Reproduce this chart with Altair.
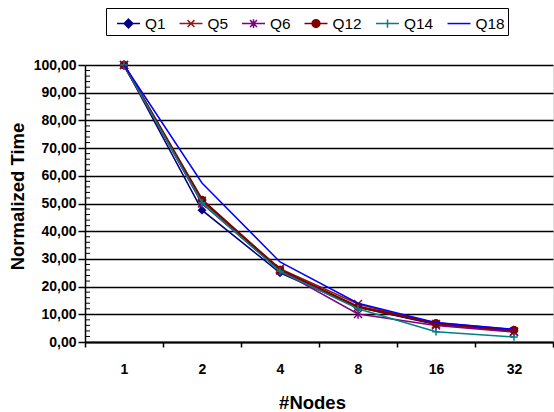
import altair as alt
import pandas as pd

nodes = ["1", "2", "4", "8", "16", "32"]
series_names = ["Q1", "Q5", "Q6", "Q12", "Q14", "Q18"]
q1 = [100.0, 47.6, 25.0, 12.5, 6.3, 4.0]
q5 = [100.0, 51.0, 26.5, 13.7, 6.5, 3.8]
q6 = [100.0, 50.0, 25.8, 10.1, 6.0, 3.6]
q12 = [100.0, 51.3, 26.0, 12.7, 6.8, 4.3]
q14 = [100.0, 50.3, 25.5, 12.0, 3.7, 1.8]
q18 = [100.0, 57.4, 28.9, 14.0, 7.0, 4.6]
y_ticks = [0, 10, 20, 30, 40, 50, 60, 70, 80, 90, 100]
minor_ticks = [v for v in range(0, 101, 2) if v % 10 != 0]

colors = ["#000080", "#8C1C1C", "#800080", "#800000", "#008080", "#0000FF"]
line_widths = [1.5, 1.5, 1.5, 2.5, 1.5, 1.5]

FONT = "Liberation Sans"

rows = []
for name, vals in zip(series_names, [q1, q5, q6, q12, q14, q18]):
    for n, v in zip(nodes, vals):
        rows.append({"nodes": n, "series": name, "value": v})
df = pd.DataFrame(rows)
minor_df = pd.DataFrame({"m": minor_ticks})

x_axis = alt.Axis(
    tickBand="extent", labelAngle=0, labelFont=FONT, labelFontSize=14,
    labelFontWeight="bold", labelColor="black", labelBaseline="alphabetic",
    labelPadding=26, tickSize=5, tickColor="black", tickWidth=1.5,
    domainColor="black", domainWidth=2, grid=False,
    titleFont=FONT, titleFontSize=18.5, titleFontWeight="bold",
    titleColor="black", titleX=227, titleY=66, titleBaseline="alphabetic",
    titleAnchor="start", titleAlign="center",
)
x_enc = alt.X(
    "nodes:O", sort=nodes, title="#Nodes",
    scale=alt.Scale(type="band", paddingInner=0, paddingOuter=0),
    axis=x_axis,
)
y_scale = alt.Scale(domain=[0, 100], nice=False)
y_axis = alt.Axis(
    values=y_ticks,
    labelExpr="replace(format(datum.value, '.2f'), '.', ',')",
    labelFont=FONT, labelFontSize=14, labelFontWeight="bold",
    labelColor="black", labelPadding=2, tickSize=7, tickColor="black",
    tickWidth=1.5, domainColor="black", domainWidth=1.5,
    grid=True, gridColor="black", gridWidth=1.7,
    titleFont=FONT, titleFontSize=18.5, titleFontWeight="bold",
    titleColor="black", titleX=-62, titleY=131, titleAngle=270,
    titleBaseline="alphabetic", titleAlign="center",
)
y_enc = alt.Y("value:Q", scale=y_scale, title="Normalized Time", axis=y_axis)

base = alt.Chart(df)
layers = []

# minor ticks on y axis (inside)
minor = alt.Chart(minor_df).mark_rule(color="black", strokeWidth=1).encode(
    y=alt.Y("m:Q", scale=y_scale, title="Normalized Time", axis=y_axis),
    x=alt.value(0),
    x2=alt.value(5),
)

point_shapes = [
    ("diamond", True, 80),
    ("M-1,-1L1,1M-1,1L1,-1", False, 64),
    ("M-1,-1L1,1M-1,1L1,-1M0,-1.2L0,1.2", False, 64),
    ("circle", True, 72),
    ("M-1,0L1,0M0,-1L0,1", False, 56),
    (None, False, 0),
]

for name, col, lw, (shape, filled, size) in zip(series_names, colors, line_widths, point_shapes):
    sub = base.transform_filter(alt.datum.series == name)
    line = sub.mark_line(color=col, strokeWidth=lw).encode(x=x_enc, y=y_enc)
    layers.append(line)
    if shape is not None:
        if filled:
            pts = sub.mark_point(shape=shape, filled=True, color=col, size=size, opacity=1)
        else:
            pts = sub.mark_point(shape=shape, filled=False, color=col, size=size,
                                 strokeWidth=1.5, opacity=1)
        layers.append(pts.encode(x=x_enc, y=y_enc))

legend_paths = [
    "M-1,0L1,0M0,-0.38L0.38,0L0,0.38L-0.38,0Z",
    "M-1,0L1,0M-0.3,-0.3L0.3,0.3M-0.3,0.3L0.3,-0.3",
    "M-1,0L1,0M-0.3,-0.3L0.3,0.3M-0.3,0.3L0.3,-0.3M0,-0.38L0,0.38",
    "M-1,0L1,0M0.34,0A0.34,0.34,0,1,1,-0.34,0A0.34,0.34,0,1,1,0.34,0Z",
    "M-1,0L1,0M0,-0.36L0,0.36",
    "M-1,0L1,0",
]

legend = alt.Legend(
    title=None, orient="none", legendX=21, legendY=-57, direction="horizontal",
    columns=6, strokeColor="black", padding=3, symbolSize=529,
    symbolStrokeWidth=1.5, symbolOffset=7, labelOffset=4, columnPadding=5.5,
    labelFont=FONT, labelFontSize=15.4, labelColor="black", symbolOpacity=1,
)

legend_layer = base.transform_filter("false").mark_point(filled=True).encode(
    x=x_enc,
    y=y_enc,
    color=alt.Color("series:N", scale=alt.Scale(domain=series_names, range=colors), legend=legend, sort=series_names),
    stroke=alt.Stroke("series:N", scale=alt.Scale(domain=series_names, range=colors), legend=legend, sort=series_names),
    shape=alt.Shape("series:N", scale=alt.Scale(domain=series_names, range=legend_paths), legend=legend, sort=series_names),
)

chart = alt.layer(*layers, minor, legend_layer).properties(
    width=468, height=277,
    autosize=alt.AutoSizeParams(type="none"),
    padding={"left": 85, "top": 65, "right": 1, "bottom": 70},
).configure_view(stroke=None).configure(background="white")

chart.save("out.html", embed_options={"renderer": "svg", "actions": False})
